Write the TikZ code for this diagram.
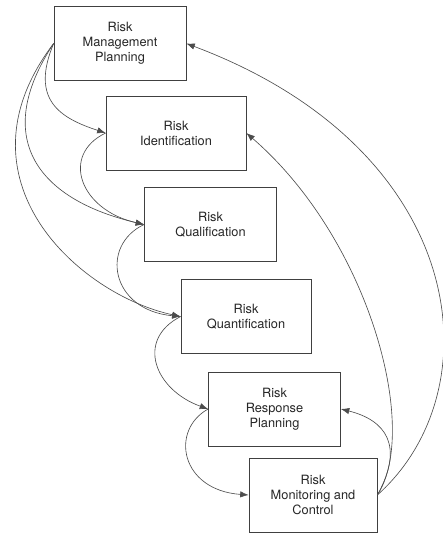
\documentclass[tikz,border=0pt]{standalone}
\usepackage{fontspec}
\setmainfont{TeX Gyre Heros}
\usetikzlibrary{arrows.meta}
\tikzset{stage/.style={rectangle,draw=black!75,line width=0.5pt,minimum width=3.3cm,minimum height=1.85cm,align=center,text=black!85,font=\fontsize{9.1}{10.7}\selectfont},flow/.style={->,>={Latex[length=6pt,width=4.5pt]},draw=black!70,line width=0.45pt}}
\begin{document}
\begin{tikzpicture}[x=0.025cm,y=-0.025cm]
\useasboundingbox (0,0) rectangle (442,534);

%stages
\node (man) at (120,43.5)[stage]{Risk\\Management\\Planning};
\node (ide) at (176,133)[stage,minimum width=3.5cm]{Risk\\Identification};
\node (qual) at (210.5,224.5)[stage]{Risk\\Qualification};
\node (quan) at (246,316.5)[stage,minimum width=3.25cm]{Risk\\Quantification};
\node (resp) at (274.5,409)[stage]{Risk\\Response\\Planning};
\node (mon) at (313,495)[stage,minimum width=3.2cm]{Risk\\Monitoring and\\Control};

%left side
\draw[flow] (man.west) .. controls (30,100) and (60,118) .. (ide.west);
\draw[flow] (man.west) .. controls (-10,140) and (40,200) .. (qual.west);
\draw[flow] (man.west) .. controls (-50,180) and (80,295) .. (quan.west);
\draw[flow] (ide.west) .. controls (60,155) and (80,210) .. (qual.west);
\draw[flow] (qual.west) .. controls (100,245) and (110,310) .. (quan.west);
\draw[flow] (quan.west) .. controls (135,340) and (155,390) .. (resp.west);
\draw[flow] (resp.west) .. controls (170,430) and (180,490) .. (mon.west);

%right side
\draw[flow] (mon.east) .. controls (405,445) and (385,420) .. (resp.east);
\draw[flow] (mon.east) .. controls (420,430) and (370,240) .. (ide.east);
\draw[flow] (mon.east) .. controls (495,390) and (470,150) .. (man.east);

\end{tikzpicture}
\end{document}
